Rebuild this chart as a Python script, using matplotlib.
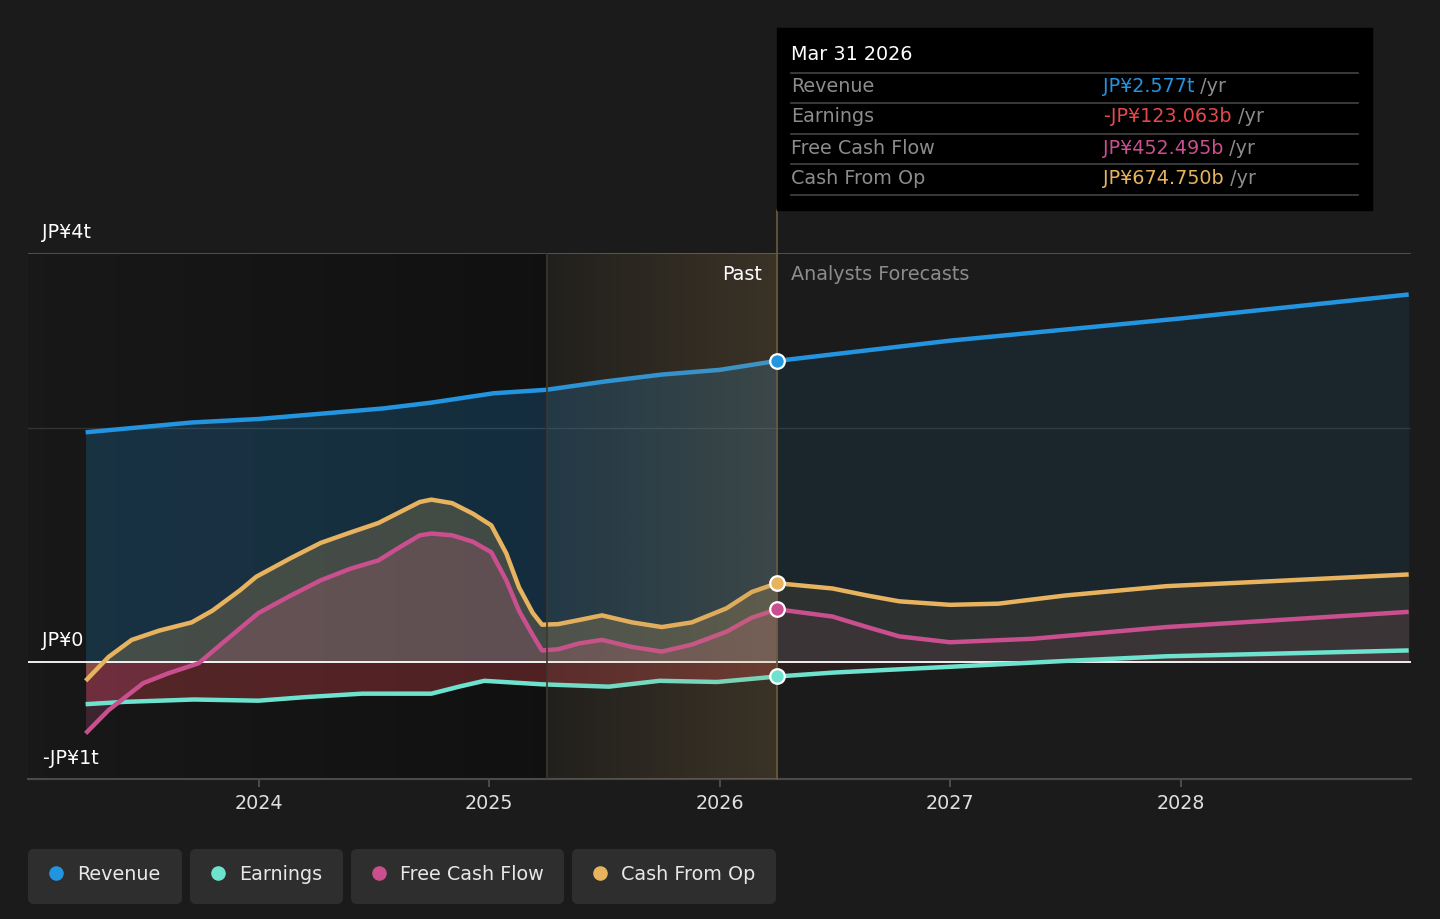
import matplotlib.pyplot as plt
import numpy as np
from matplotlib.patches import FancyBboxPatch, Rectangle

# values in trillions of JPY, x in decimal years
revenue_x = [2023.25, 2023.71, 2024.0, 2024.18, 2024.54, 2024.75, 2025.02, 2025.25,
             2025.5, 2025.75, 2026.0, 2026.25, 2027.0, 2028.0, 2028.99]
revenue = [1.966, 2.05, 2.08, 2.11, 2.17, 2.22, 2.30, 2.33,
           2.40, 2.46, 2.50, 2.577, 2.75, 2.94, 3.145]

earnings_x = [2023.25, 2023.42, 2023.72, 2024.0, 2024.2, 2024.45, 2024.75, 2024.87,
              2024.98, 2025.23, 2025.52, 2025.74, 2025.99, 2026.25, 2026.49, 2027.0,
              2027.5, 2027.94, 2028.99]
earnings = [-0.36, -0.34, -0.32, -0.33, -0.30, -0.27, -0.27, -0.21,
            -0.16, -0.19, -0.21, -0.16, -0.17, -0.123, -0.09, -0.04,
            0.01, 0.05, 0.10]

fcf_x = [2023.25, 2023.35, 2023.50, 2023.61, 2023.74, 2023.86, 2024.0, 2024.14,
         2024.27, 2024.40, 2024.52, 2024.61, 2024.70, 2024.75, 2024.84, 2024.93,
         2025.01, 2025.075, 2025.13, 2025.19, 2025.23, 2025.30, 2025.39, 2025.49,
         2025.62, 2025.75, 2025.88, 2026.03, 2026.14, 2026.25, 2026.49, 2026.64,
         2026.78, 2027.0, 2027.36, 2027.94, 2028.99]
fcf = [-0.61, -0.41, -0.18, -0.095, -0.01, 0.19, 0.42, 0.57,
       0.70, 0.80, 0.87, 0.98, 1.085, 1.10, 1.085, 1.03,
       0.94, 0.70, 0.44, 0.23, 0.10, 0.11, 0.16, 0.19,
       0.13, 0.09, 0.15, 0.26, 0.38, 0.452, 0.39, 0.30,
       0.22, 0.17, 0.20, 0.30, 0.43]

cfo_x = [2023.25, 2023.35, 2023.45, 2023.57, 2023.71, 2023.80, 2023.92, 2023.99,
         2024.14, 2024.27, 2024.40, 2024.52, 2024.61, 2024.70, 2024.75, 2024.84,
         2024.93, 2025.01, 2025.075, 2025.13, 2025.19, 2025.23, 2025.30, 2025.39,
         2025.49, 2025.62, 2025.75, 2025.88, 2026.03, 2026.14, 2026.25, 2026.49,
         2026.64, 2026.78, 2027.0, 2027.21, 2027.5, 2027.94, 2028.37, 2028.99]
cfo = [-0.16, 0.045, 0.19, 0.27, 0.34, 0.44, 0.615, 0.73,
       0.89, 1.02, 1.11, 1.19, 1.28, 1.37, 1.39, 1.36,
       1.27, 1.17, 0.93, 0.64, 0.42, 0.32, 0.325, 0.36,
       0.40, 0.34, 0.30, 0.34, 0.46, 0.60, 0.675, 0.63,
       0.57, 0.52, 0.49, 0.50, 0.57, 0.65, 0.69, 0.75]

now_x = 2026.25
band_start = 2025.25
year_ticks = [2024, 2025, 2026, 2027, 2028]

legend_names = ["Revenue", "Earnings", "Free Cash Flow", "Cash From Op"]
tooltip_date = "Mar 31 2026"
tooltip_values = ["JP¥2.577t", "-JP¥123.063b", "JP¥452.495b", "JP¥674.750b"]

BG = "#1b1b1b"
BLUE = "#2394df"
TEAL = "#6de3cf"
PINK = "#c94f8e"
ORANGE = "#e8b35f"
RED = "#e5484d"
series_colors = [BLUE, TEAL, PINK, ORANGE]
value_colors = [BLUE, RED, PINK, ORANGE]
FS = 13.8

fig = plt.figure(figsize=(14.4, 9.19), dpi=100, facecolor=BG)
ax = fig.add_axes([28 / 1440, 1 - 779 / 919, 1383 / 1440, 526 / 919])
ax.set_facecolor(BG)
ax.set_xlim(2023.0, 2029.0)
ax.set_ylim(-1.0, 3.5)

# darker past background and highlighted last year
shade = np.linspace(0.095, 0.066, 200)
past_bg = np.stack([shade, shade, shade, np.ones_like(shade)], axis=-1)[None, :, :]
ax.imshow(past_bg, extent=[2023.0, band_start, -1, 3.5], aspect="auto", zorder=0)

band = np.zeros((1, 200, 4))
band[..., 0] = 180 / 255
band[..., 1] = 140 / 255
band[..., 2] = 80 / 255
band[..., 3] = np.linspace(0.05, 0.21, 200)
ax.imshow(band, extent=[band_start, now_x, -1, 3.5], aspect="auto", zorder=4)

ax.axhline(3.5, color="#5a5a5a", lw=1.2, zorder=1)
ax.axhline(2.0, color="#333333", lw=1.0, zorder=1)


def split(xs, ys):
    xs = np.array(xs)
    ys = np.array(ys)
    k = int(np.where(np.isclose(xs, now_x))[0][0])
    return xs[:k + 1], ys[:k + 1], xs[k:], ys[k:], ys[k]


series = [(revenue_x, revenue), (earnings_x, earnings), (fcf_x, fcf), (cfo_x, cfo)]
for i, (xs, ys) in enumerate(series):
    px, py, fx, fy, yn = split(xs, ys)
    c = series_colors[i]
    if i == 1:
        ax.fill_between(px, 0, py, where=py < 0, color=RED, alpha=0.3, lw=0, zorder=1.2)
        ax.fill_between(fx, 0, fy, color=RED, alpha=0.08, lw=0, zorder=1.2)
    else:
        ax.fill_between(px, 0, py, color=c, alpha=0.22, lw=0, zorder=1.1 + i * 0.1)
        ax.fill_between(fx, 0, fy, color=c, alpha=0.09, lw=0, zorder=1.1 + i * 0.1)
    ax.plot(xs, ys, color=c, lw=3.2, solid_capstyle="butt", solid_joinstyle="round", zorder=3)
    ax.scatter([now_x], [yn], s=110, color=c, edgecolor="white", linewidth=1.6, zorder=6)

ax.axhline(0, color="white", lw=1.3, zorder=2.9)

ax.plot([band_start, band_start], [-1, 3.5], color="#3e382d", lw=1.2, zorder=4.5)
ax.plot([now_x, now_x], [-1, 3.865], color="#6b5b3e", lw=1.2, zorder=4.5, clip_on=False)

for s in ["top", "left", "right"]:
    ax.spines[s].set_visible(False)
ax.spines["bottom"].set_color("#4a4a4a")
ax.spines["bottom"].set_linewidth(1.5)
ax.set_yticks([])
ax.set_xticks(year_ticks)
ax.set_xticklabels([str(y) for y in year_ticks])
ax.tick_params(axis="x", colors="#555555", labelcolor="#e0e0e0", labelsize=FS,
               length=6, width=1.2, pad=5)

# overlay in pixel coordinates for labels, tooltip and legend
ov = fig.add_axes([0, 0, 1, 1], zorder=10)
ov.set_xlim(0, 1440)
ov.set_ylim(919, 0)
ov.axis("off")
ov.patch.set_alpha(0)

for txt, y in [("JP¥4t", 232), ("JP¥0", 641), ("-JP¥1t", 758)]:
    ov.text(42, y, txt, color="white", fontsize=FS, va="center", ha="left")

ov.text(762, 274, "Past", color="white", fontsize=FS, va="center", ha="right")
ov.text(791, 274, "Analysts Forecasts", color="#8c8c8c", fontsize=FS, va="center", ha="left")

ov.add_patch(Rectangle((777, 28), 595, 182, color="black", zorder=1))
ov.text(791, 55, tooltip_date, color="white", fontsize=FS, va="center", zorder=2)
for y in [73, 103, 134, 164, 195]:
    ov.plot([791, 1358], [y, y], color="#444444", lw=1.2, zorder=2)
row_y = [87, 117, 148, 178]
for name, val, c, y in zip(legend_names, tooltip_values, value_colors, row_y):
    ov.text(791, y, name, color="#8c8c8c", fontsize=FS, va="center", zorder=2)
    t = ov.text(1103, y, val, color=c, fontsize=FS, va="center", zorder=2)
    ov.annotate(" /yr", xy=(1, 0.5), xycoords=t, va="center", ha="left",
                color="#8c8c8c", fontsize=FS, zorder=2)

boxes = [(28, 154), (190, 153), (351, 213), (572, 204)]
for (bx, bw), name, c in zip(boxes, legend_names, series_colors):
    ov.add_patch(FancyBboxPatch((bx, 849), bw, 55, boxstyle="round,pad=0,rounding_size=6",
                                facecolor="#2e2e2e", edgecolor="none"))
    ov.scatter([bx + 28], [873], s=90, color=c, zorder=3)
    ov.text(bx + 49, 874, name, color="#e8e8e8", fontsize=FS, va="center", ha="left")

fig.savefig("out.png", dpi=100, facecolor=BG)
